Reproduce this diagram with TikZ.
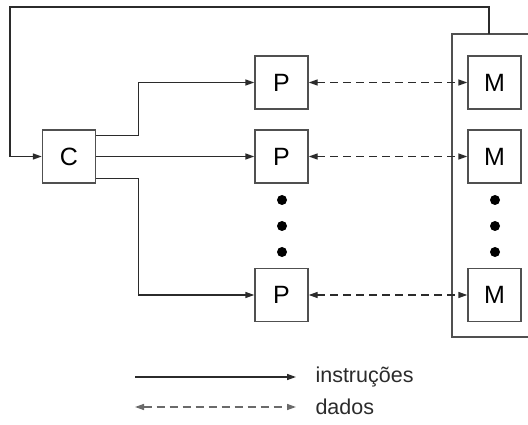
\documentclass[tikz,border=0pt]{standalone}
\usepackage{fontspec}
\setmainfont{Liberation Sans}
\usetikzlibrary{arrows.meta}
\definecolor{linegray}{HTML}{2B2B2B}
\definecolor{boxgray}{HTML}{505050}
\definecolor{legendgray}{HTML}{6A6A6A}
\tikzset{
  unit/.style={draw=boxgray, line width=1.4pt, minimum width=53pt, minimum height=53pt,
    inner sep=0pt, font=\fontsize{25}{27}\selectfont},
  arr/.style={draw=linegray, line width=1.4pt, -{Triangle[length=9pt,width=6pt]}},
  dataarr/.style={draw=linegray, line width=1.4pt, dash pattern=on 8pt off 5pt,
    {Triangle[length=9pt,width=6pt]}-{Triangle[length=9pt,width=6pt]}},
  dot/.style={circle, fill=black, inner sep=0pt, minimum size=10pt},
  legendtext/.style={anchor=west, font=\fontsize{21.5}{23}\selectfont, text=linegray}
}
\begin{document}
\begin{tikzpicture}[x=1pt, y=-1pt]
  \useasboundingbox (0,0) rectangle (528,425);

  % control unit
  \node[unit] (C) at (69,156.5) {C};

  % processing elements
  \node[unit] (P1) at (281.5,82.5) {P};
  \node[unit] (P2) at (281.5,156.5) {P};
  \node[unit] (P3) at (281.5,295) {P};
  \node[dot] (pd1) at (282,200) {};
  \node[dot] (pd2) at (282,226) {};
  \node[dot] (pd3) at (282,252) {};

  % memory bank, right side runs past the edge
  \coordinate (memtl) at (452,34);
  \coordinate (membl) at (452,337);
  \coordinate (memtop) at (489,34);
  \draw[boxgray, line width=1.4pt] (531,34) -- (memtl) -- (membl) -- (531,337);
  \node[unit] (M1) at (494.5,82.5) {M};
  \node[unit] (M2) at (494.5,156.5) {M};
  \node[unit] (M3) at (494.5,295) {M};
  \node[dot] (md1) at (495,200) {};
  \node[dot] (md2) at (495,226) {};
  \node[dot] (md3) at (495,252) {};

  % feedback from memory to control unit
  \coordinate (loop) at (10,7);
  \draw[arr] (memtop) |- (loop) |- (C.west);

  % instruction broadcast
  \draw[arr] ([yshift=-6pt]C.north east) -- ++(42,0) |- (P1.west);
  \draw[arr] (C.east) -- (P2.west);
  \draw[arr] ([yshift=5pt]C.south east) -- ++(42,0) |- (P3.west);

  % data paths
  \draw[dataarr] (P1.east) -- (M1.west);
  \draw[dataarr] (P2.east) -- (M2.west);
  \draw[dataarr] (P3.east) -- (M3.west);

  % legend
  \coordinate (l1a) at (135,377);
  \coordinate (l1b) at (296,377);
  \coordinate (l2a) at (135,407);
  \coordinate (l2b) at (296,407);
  \draw[arr] (l1a) -- (l1b);
  \draw[dataarr, draw=legendgray] (l2a) -- (l2b);
  \node[legendtext] (ti) at (312,377) {instruções};
  \node[legendtext] (td) at (312,407) {dados};
\end{tikzpicture}
\end{document}
